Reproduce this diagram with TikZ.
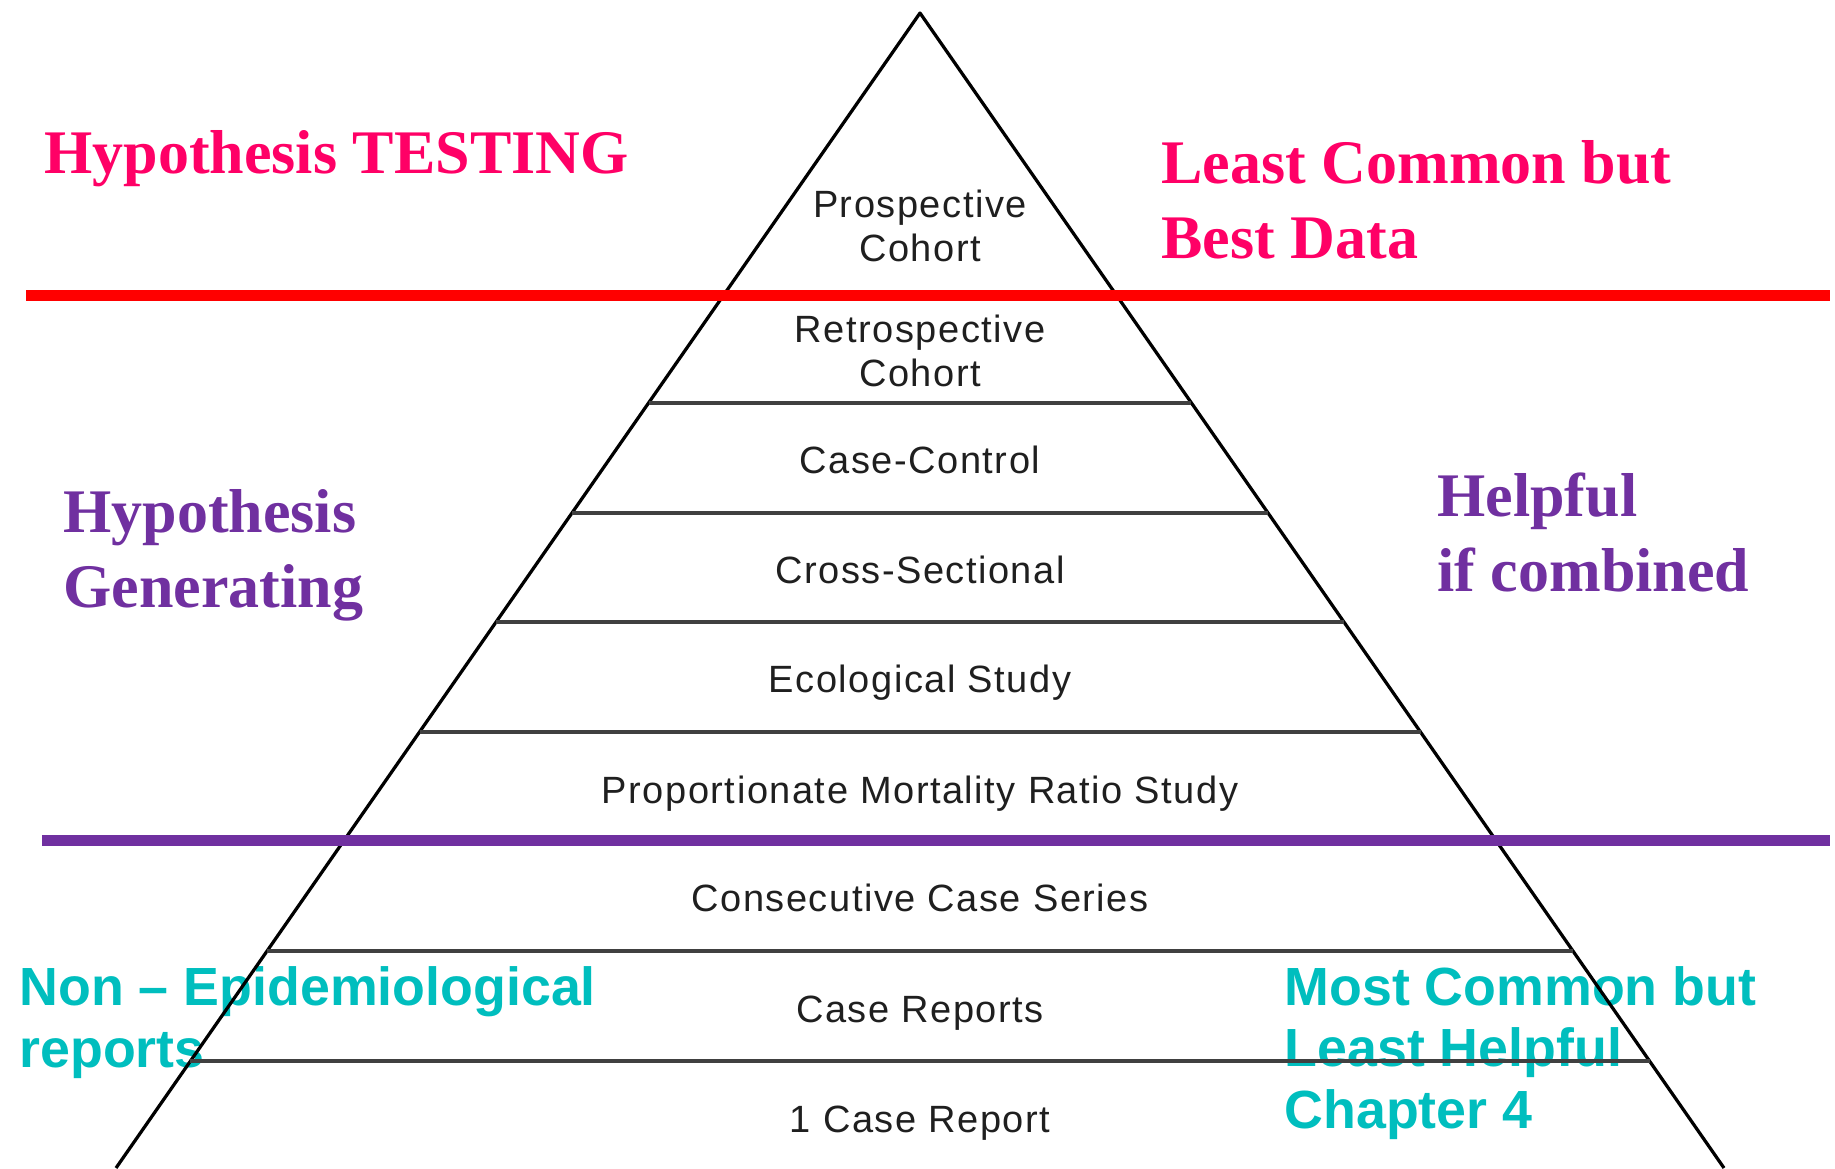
\documentclass[tikz,border=0pt]{standalone}
\usepackage{fontspec}
\setmainfont{Liberation Serif}
\setsansfont{Liberation Sans}
\newfontfamily\layerfont[LetterSpace=4]{Liberation Sans}
\usepackage{xcolor}
\usepackage{tikz}
\usetikzlibrary{positioning}

\definecolor{hotpink}{RGB}{255,0,102}
\definecolor{plum}{RGB}{112,48,160}
\definecolor{aqua}{RGB}{0,190,190}

\tikzset{
    layer/.style={font=\layerfont\fontsize{15.2}{17.6}\selectfont, text=black!88, align=center, anchor=base, inner sep=0pt},
    rung/.style={black!75, line width=1.3pt},
    serifnote/.style={font=\rmfamily\bfseries\fontsize{24.8}{30}\selectfont, align=left, anchor=base west, inner sep=0pt},
    sansnote/.style={font=\sffamily\bfseries\fontsize{21.5}{24.6}\selectfont, align=left, anchor=base west, inner sep=0pt, text=aqua},
}

\begin{document}
\begin{tikzpicture}[x=0.4pt,y=-0.4pt]
    \useasboundingbox (0,0) rectangle (1835,1168);

    % Side notes (placed at the baseline of their last line)
    \node[serifnote, text=hotpink] (testing) at (44,173) {Hypothesis TESTING};
    \node[serifnote, text=hotpink] (bestdata) at (1161,258) {Least Common but\\Best Data};
    \node[serifnote, text=plum] (generating) at (63,607) {Hypothesis\\Generating};
    \node[serifnote, text=plum] (combined) at (1437,591) {Helpful\\if combined};
    \node[sansnote] (nonepi) at (19,1067) {Non – Epidemiological\\reports};
    \node[sansnote] (mostcommon) at (1284,1128) {Most Common but\\Least Helpful\\Chapter 4};

    % Pyramid outline (cut off at the bottom)
    \coordinate (apex) at (920,13);
    \coordinate (baseL) at (116,1168);
    \coordinate (baseR) at (1724,1168);
    \draw[line width=1.3pt, line join=round] (baseL) -- (apex) -- (baseR);

    % Layer boundaries, clipped to the sides
    \foreach \y in {295,403,513,622,732,841,951,1061} {
        \pgfmathsetmacro\hw{(\y-13)*0.6961}
        \draw[rung] (920-\hw,\y) -- (920+\hw,\y);
    }

    % Study designs, top to bottom
    \foreach \lbl/\y/\txt in {pro/261/{Prospective\\Cohort}, retro/386/{Retrospective\\Cohort},
        casectl/473/{Case-Control}, cross/583/{Cross-Sectional}, eco/692/{Ecological Study},
        pmr/803/{Proportionate Mortality Ratio Study}, series/911/{Consecutive Case Series},
        reports/1022/{Case Reports}, single/1132/{1 Case Report}} {
        \node[layer] (\lbl) at (920,\y) {\txt};
    }

    % Dividers
    \coordinate (redL) at (26,295.5);
    \coordinate (redR) at (1830,295.5);
    \draw[red, line width=4.4pt] (redL) -- (redR);
    \coordinate (purpleL) at (42,840.5);
    \coordinate (purpleR) at (1830,840.5);
    \draw[plum, line width=4.4pt] (purpleL) -- (purpleR);
\end{tikzpicture}
\end{document}
